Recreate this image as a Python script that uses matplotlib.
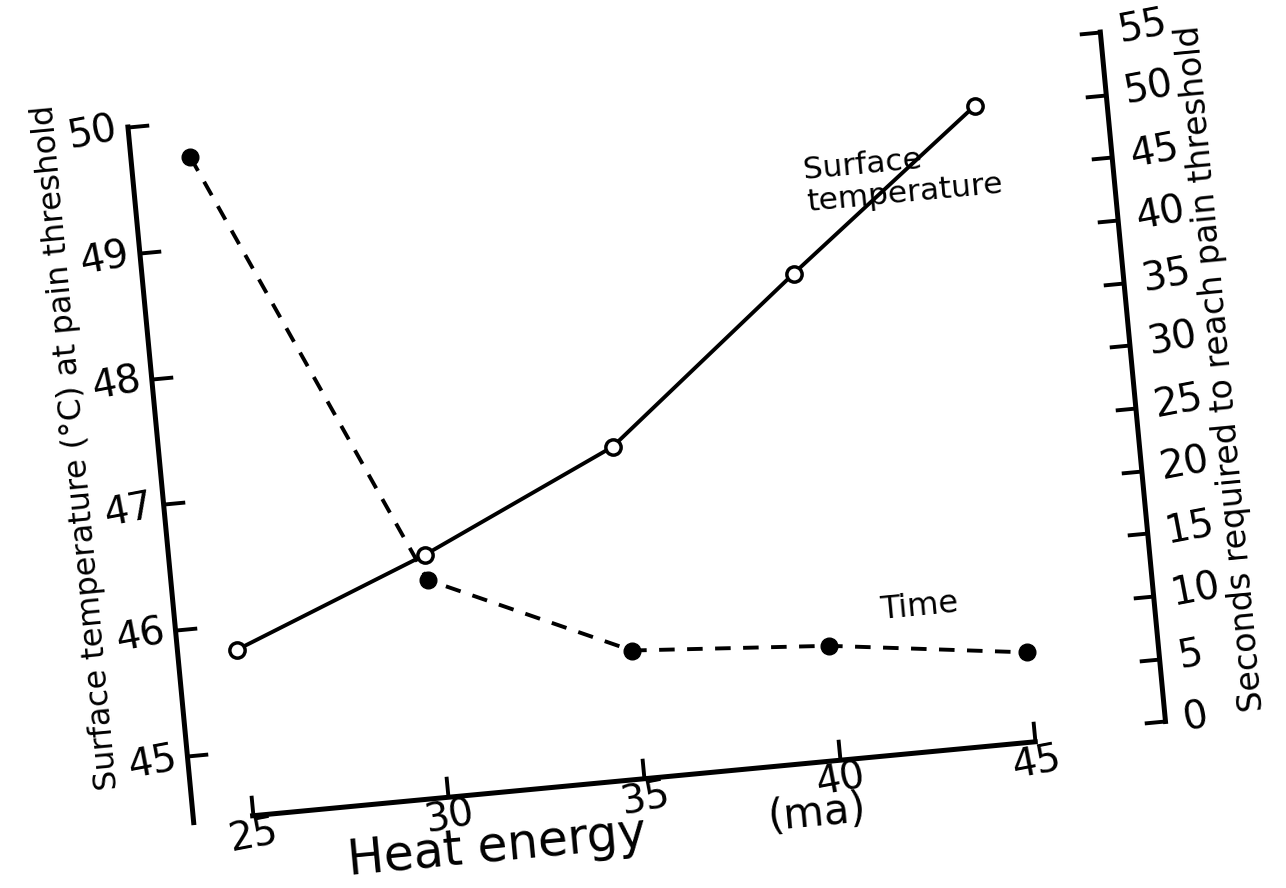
import matplotlib
matplotlib.use("Agg")
import matplotlib.pyplot as plt
from matplotlib.transforms import Affine2D
import mpl_toolkits.axisartist.floating_axes as floating_axes
from mpl_toolkits.axisartist.grid_finder import FixedLocator, DictFormatter

# values
heat_energy = [25, 30, 35, 40, 45]  # ma
surface_temp = [45.80, 46.41, 47.12, 48.35, 49.54]  # deg C at pain threshold
seconds_to_pain = [51.9, 16.7, 9.6, 8.5, 6.5]  # s

energy_ticks = [25, 30, 35, 40, 45]
temp_ticks = [45, 46, 47, 48, 49, 50]
sec_ticks = [0, 5, 10, 15, 20, 25, 30, 35, 40, 45, 50, 55]

W, H = 1286, 888
TILT = 5.4  # the page was scanned turned by about this many degrees

# data -> figure pixels (y up), with the page turned around its centre
tr_temp = (Affine2D().translate(-25, -45).scale(39.3, 126.3)
           .translate(219.4, 176.3).rotate_deg_around(W / 2, H / 2, TILT))
tr_sec = (Affine2D().translate(-25, 0).scale(39.3, 12.59)
          .translate(219.4, 118.6).rotate_deg_around(W / 2, H / 2, TILT))


def labels(ticks):
    return DictFormatter({t: str(t) for t in ticks})


# one tilted frame per axis; only one side of each is shown
def tilted_axes(fig, tr, extremes, ticks1, ticks2):
    helper = floating_axes.GridHelperCurveLinear(
        tr, extremes=extremes,
        grid_locator1=FixedLocator(ticks1), grid_locator2=FixedLocator(ticks2),
        tick_formatter1=labels(ticks1), tick_formatter2=labels(ticks2))
    x0, x1, y0, y1 = extremes
    corners = tr.transform([(x0, y0), (x1, y0), (x1, y1), (x0, y1)])
    lo, hi = corners.min(axis=0), corners.max(axis=0)
    mid, half = (lo + hi) / 2, (hi - lo) / 2 * 1.02  # FloatingAxes pads by 2%
    rect = [(mid[0] - half[0]) / W, (mid[1] - half[1]) / H,
            2 * half[0] / W, 2 * half[1] / H]
    ax = fig.add_axes(rect, axes_class=floating_axes.FloatingAxes,
                      grid_helper=helper)
    ax.set_aspect("auto")
    ax.patch.set_facecolor("none")
    ax.patch.set_edgecolor("none")
    for side in ["left", "right", "bottom", "top"]:
        ax.axis[side].set_visible(False)
    return ax


def style_axis(axis, text, pad, label_size, label_pad):
    axis.set_visible(True)
    axis.toggle(all=True)
    axis.line.set_linewidth(3.6)
    axis.major_ticks.set_ticksize(15)
    axis.major_ticks.set_markeredgewidth(2.8)
    axis.major_ticklabels.set_fontsize(28)
    axis.major_ticklabels.set_pad(pad)
    # tick labels lean with the page like everything else
    axis.major_ticklabels.set_rotation(axis.major_ticklabels.get_rotation() + TILT)
    axis.label.set_text(text)
    axis.label.set_fontsize(label_size)
    axis.label.set_pad(label_pad)


fig = plt.figure(figsize=(W / 100, H / 100), dpi=100)

ax_t = tilted_axes(fig, tr_temp, (23.49, 48.35, 44.47, 50.002), energy_ticks, temp_ticks)
style_axis(ax_t.axis["left"],
           "       Surface temperature (\u00b0C) at pain threshold", 8, 23, 4)

ax_x = tilted_axes(fig, tr_temp, (24.999, 45.001, 44.48, 50), energy_ticks, temp_ticks)
style_axis(ax_x.axis["bottom"], "", 1, 24, 4)

ax_s = tilted_axes(fig, tr_sec, (23.49, 48.35, -0.001, 55.001), energy_ticks, sec_ticks)
style_axis(ax_s.axis["right"], "Seconds required to reach pain threshold", 13, 24, 3)

aux_t = ax_t.get_aux_axes(tr_temp)
aux_s = ax_s.get_aux_axes(tr_sec)

aux_s.plot(heat_energy, seconds_to_pain, color="black", lw=2.8,
           dashes=(4, 3.2), marker="o", ms=12, mfc="black", mec="black")
aux_t.plot(heat_energy, surface_temp, color="black", lw=2.8,
           marker="o", ms=11, mfc="white", mec="black", mew=2.5)

aux_t.text(43.0, 49.03, "Surface\ntemperature", rotation=TILT,
           rotation_mode="anchor", ha="center", va="center",
           multialignment="left", linespacing=1.15, fontsize=22.5)
aux_t.text(42.4, 45.63, "Time", rotation=TILT, rotation_mode="anchor",
           ha="center", va="center", fontsize=23)

# x-axis title, written in two pieces as on the original
aux_t.text(31.12, 44.05, "Heat energy", rotation=TILT, rotation_mode="anchor",
           ha="center", va="center", fontsize=35)
aux_t.text(39.3, 44.08, "(ma)", rotation=TILT, rotation_mode="anchor",
           ha="center", va="center", fontsize=30)

fig.savefig("out.png", dpi=100, facecolor="white")
